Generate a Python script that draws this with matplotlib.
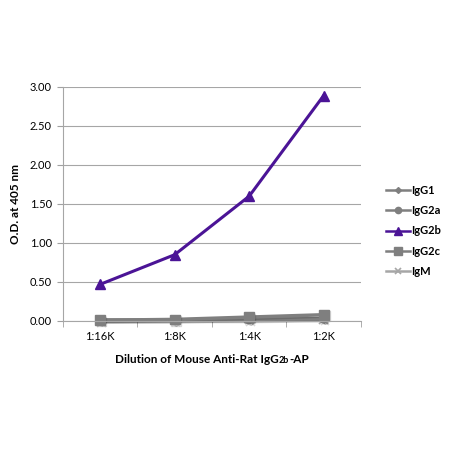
import matplotlib
matplotlib.use("Agg")
import matplotlib.pyplot as plt
import matplotlib.patheffects as pe
from matplotlib.lines import Line2D

categories = ["1:16K", "1:8K", "1:4K", "1:2K"]
series_names = ["IgG1", "IgG2a", "IgG2b", "IgG2c", "IgM"]
igg1 = [0.01, 0.01, 0.02, 0.03]
igg2a = [0.01, 0.01, 0.02, 0.03]
igg2b = [0.47, 0.85, 1.60, 2.89]
igg2c = [0.01, 0.02, 0.05, 0.08]
igm = [0.00, 0.01, 0.01, 0.02]
yticks = [0.0, 0.5, 1.0, 1.5, 2.0, 2.5, 3.0]

FONT = ["Lato", "DejaVu Sans"]
plt.rcParams['font.family'] = FONT

fig = plt.figure(figsize=(4.5, 4.5), dpi=100)
ax = fig.add_axes([0.14, 0.2867, 0.662, 0.52])

x = list(range(len(categories)))
gray = "#7f7f7f"
styles = {
    "IgG1": dict(color=gray, marker="D", ms=4, lw=2.5),
    "IgG2a": dict(color=gray, marker="o", ms=6, lw=2.5),
    "IgG2b": dict(color="#4b1496", marker="^", ms=7, lw=2.2),
    "IgG2c": dict(color=gray, marker="s", ms=7, lw=2.5),
    "IgM": dict(color="#a6a6a6", marker="x", ms=6, lw=2.5, mew=1.2),
}
data = {"IgG1": igg1, "IgG2a": igg2a, "IgG2b": igg2b, "IgG2c": igg2c, "IgM": igm}
order = ["IgM", "IgG1", "IgG2a", "IgG2c", "IgG2b"]
for name in order:
    st = styles[name]
    effects = None
    if name != "IgG2b":
        effects = [pe.SimpleLineShadow(offset=(1, -1), alpha=0.15, shadow_color='k'), pe.Normal()]
    ax.plot(x, data[name], color=st["color"], marker=st["marker"], ms=st["ms"],
            lw=st["lw"], mew=st.get("mew", 1), clip_on=False, path_effects=effects)

ax.set_xlim(-0.5, len(categories) - 0.5)
ax.set_ylim(0, 3.0)
ax.set_yticks(yticks)
ax.set_yticklabels([f"{v:.2f}" for v in yticks], fontsize=8)
ax.set_xticks(x)
ax.set_xticklabels(categories, fontsize=8)
ax.tick_params(axis='x', which='major', length=0, pad=7)
ax.set_xticks([i - 0.5 for i in range(len(categories) + 1)], minor=True)
ax.tick_params(axis='x', which='minor', length=4, color="#a0a0a0", direction='out')
ax.tick_params(axis='y', length=4, color="#a0a0a0", pad=4)
ax.grid(axis='y', color="#a6a6a6", lw=0.8)
ax.set_axisbelow(True)
for s in ["top", "right"]:
    ax.spines[s].set_visible(False)
ax.spines["left"].set_color("#a6a6a6")
ax.spines["bottom"].set_color("#a6a6a6")
ax.set_ylabel("O.D. at 405 nm", fontsize=8.5, fontweight='bold', labelpad=6)

# legend
handles = []
for name in series_names:
    st = styles[name]
    handles.append(Line2D([], [], color=st["color"], marker=st["marker"],
                          ms=st["ms"] * 0.75, lw=1.8, mew=st.get("mew", 1)))
fig.legend(handles, series_names, loc="upper left", bbox_to_anchor=(0.835, 0.612),
           frameon=False, handlelength=2.2, handletextpad=0.1, labelspacing=0.85,
           prop=dict(family=FONT, weight='bold', size=8))

# x-axis label with small "2b"
y0 = 1 - 363 / 450
t1 = fig.text(0.27, y0, "Dilution of Mouse Anti-Rat IgG", fontsize=8.5, fontweight='bold',
              ha='left', va='baseline')
t2 = fig.text(0, 0, "2b", fontsize=6.5, fontweight='bold', ha='left', va='baseline')
t3 = fig.text(0, 0, "-AP", fontsize=8.5, fontweight='bold', ha='left', va='baseline')
fig.canvas.draw()
r = fig.canvas.get_renderer()
W = fig.bbox.width
b1 = t1.get_window_extent(r)
t2.set_position(((b1.x1 + 0.3) / W, y0))
fig.canvas.draw()
b2 = t2.get_window_extent(r)
t3.set_position(((b2.x1 + 0.2) / W, y0))
fig.canvas.draw()
b3 = t3.get_window_extent(r)
total = b3.x1 - b1.x0
center_px = 212
shift = (center_px - total / 2) - b1.x0
for t in (t1, t2, t3):
    px = t.get_position()[0] * W + shift
    t.set_position((px / W, y0))

fig.savefig("out.png", dpi=100)
